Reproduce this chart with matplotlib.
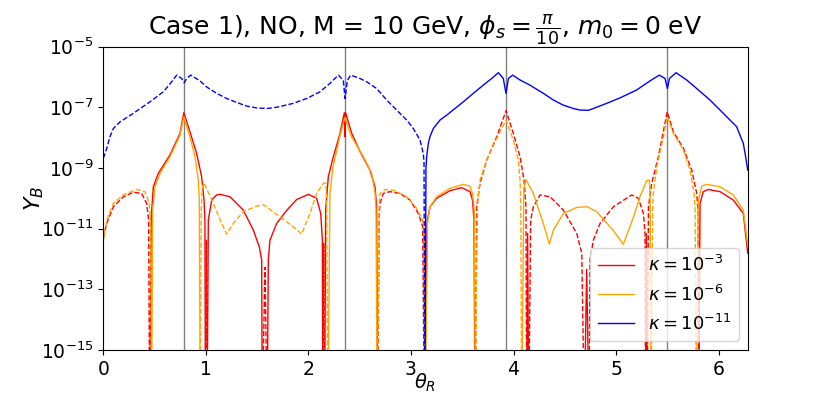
import numpy as np
import matplotlib
matplotlib.use("Agg")
import matplotlib.pyplot as plt
from matplotlib.lines import Line2D

# theta_R values and log10|Y_B|; None marks a sign change (Y_B = 0)
theta_k3 = [0.0, 0.033, 0.098, 0.195, 0.293, 0.374, 0.423, 0.442, 0.452, 0.468, 0.488, 0.536, 0.65, 0.748,
            0.785, 0.845, 0.91, 0.959, 0.982, 0.991, 0.996, 1.005, 1.012, 1.024, 1.057, 1.105, 1.138, 1.235,
            1.365, 1.463, 1.521, 1.544, 1.55, 1.576, 1.598, 1.609, 1.625, 1.69, 1.79, 1.885, 2.0, 2.08, 2.12,
            2.136, 2.14, 2.149, 2.158, 2.168, 2.194, 2.243, 2.308, 2.35, 2.356, 2.362, 2.422, 2.503, 2.6,
            2.649, 2.665, 2.675, 2.69, 2.698, 2.73, 2.795, 2.893, 2.99, 3.072, 3.114, 3.13, 3.16, 3.185,
            3.25, 3.38, 3.494, 3.575, 3.6, 3.614, 3.624, 3.64, 3.673, 3.738, 3.836, 3.927, 3.998, 4.063,
            4.102, 4.121, 4.128, 4.137, 4.148, 4.167, 4.193, 4.258, 4.356, 4.486, 4.616, 4.665, 4.69, 4.713,
            4.735, 4.745, 4.778, 4.843, 4.973, 5.152, 5.217, 5.266, 5.282, 5.287, 5.295, 5.303, 5.315,
            5.347, 5.412, 5.498, 5.558, 5.656, 5.737, 5.786, 5.8, 5.806, 5.818, 5.85, 5.9, 6.013, 6.143,
            6.24, 6.283]
lg_k3 = [-11.3, -10.83, -10.28, -9.95, -9.80, -9.84, -10.17, -10.72, None, -10.61, -9.62, -9.18, -8.57, -7.86,
         -7.18, -7.81, -8.52, -9.29, -10.06, -10.72, None, -11.38, None, -10.72, -10.06, -9.89, -9.87, -9.95,
         -10.39, -11.05, -11.60, -12.03, None, -12.28, None, -12.03, -11.38, -10.83, -10.39, -10.04, -9.87,
         -10.0, -10.50, -11.38, None, -11.49, None, -10.39, -9.29, -8.63, -7.86, -7.18, -7.97, -7.18, -7.86,
         -8.46, -9.07, -9.62, -10.28, None, -10.6, -10.17, -9.84, -9.78, -9.84, -10.06, -10.5, -10.94, None,
         -10.72, -10.28, -10.0, -9.75, -9.65, -9.78, -10.06, -10.72, None, -10.28, -9.51, -8.74, -7.97,
         -7.11, -7.86, -8.63, -9.40, -10.28, None, -11.16, None, -10.72, -10.28, -9.89, -9.95, -10.39,
         -11.16, -11.81, None, -12.34, None, -12.03, -11.38, -10.83, -10.28, -9.89, -10.0, -10.5, -11.16,
         None, -11.16, None, -10.28, -9.51, -8.63, -7.15, -7.81, -8.35, -9.07, -9.84, -10.5, None, -10.17,
         -9.78, -9.71, -9.78, -10.06, -10.5, -11.81]

theta_k6 = [0.0, 0.033, 0.098, 0.195, 0.325, 0.406, 0.449, 0.462, 0.47, 0.481, 0.504, 0.553, 0.65, 0.748,
            0.785, 0.845, 0.894, 0.926, 0.936, 0.945, 0.955, 0.965, 0.982, 1.073, 1.154, 1.203, 1.268, 1.365,
            1.495, 1.567, 1.723, 1.853, 1.934, 2.015, 2.08, 2.145, 2.17, 2.178, 2.19, 2.21, 2.24, 2.305,
            2.356, 2.42, 2.536, 2.617, 2.65, 2.659, 2.67, 2.69, 2.698, 2.747, 2.828, 2.958, 3.056, 3.114,
            3.13, 3.14, 3.16, 3.185, 3.25, 3.38, 3.51, 3.575, 3.6, 3.617, 3.628, 3.647, 3.673, 3.738, 3.836,
            3.927, 3.998, 4.047, 4.063, 4.07, 4.08, 4.1, 4.12, 4.193, 4.29, 4.349, 4.388, 4.486, 4.616, 4.72,
            4.81, 4.97, 5.07, 5.17, 5.232, 5.298, 5.324, 5.332, 5.34, 5.357, 5.363, 5.396, 5.461, 5.498,
            5.558, 5.656, 5.72, 5.76, 5.77, 5.782, 5.802, 5.835, 5.883, 6.013, 6.143, 6.24, 6.283]
lg_k6 = [-11.43, -10.72, -10.17, -9.89, -9.71, -9.78, -10.17, -10.94, None, -10.39, -9.62, -9.18, -8.63, -7.92,
         -7.31, -7.97, -8.63, -9.40, -10.06, None, -10.3, -9.65, -9.49, -10.17, -10.83, -11.18, -10.83, -10.44,
         -10.26, -10.22, -10.61, -10.94, -11.18, -10.5, -9.84, -9.51, -9.49, -10.2, None, -9.84, -8.96, -7.97,
         -7.33, -7.97, -8.63, -9.18, -9.84, -10.39, None, -10.3, -9.84, -9.71, -9.73, -9.95, -10.33, -10.72,
         -11.16, None, -10.83, -10.28, -9.95, -9.67, -9.54, -9.6, -9.84, -10.39, None, -10.28, -9.40, -8.74,
         -8.02, -7.42, -8.08, -8.74, -9.40, -10.06, None, -9.7, -9.38, -9.84, -10.83, -11.51, -11.05, -10.5,
         -10.30, -10.28, -10.44, -11.05, -11.52, -10.61, -9.95, -9.42, -9.40, -10.0, None, -10.3, -9.84,
         -8.96, -7.97, -7.31, -7.86, -8.41, -9.07, -9.84, -10.39, None, -10.06, -9.60, -9.54, -9.62, -9.89,
         -10.39, -11.54]

theta_k11 = [0.0, 0.017, 0.033, 0.065, 0.098, 0.163, 0.293, 0.455, 0.585, 0.667, 0.715, 0.764, 0.79, 0.813,
             0.852, 0.943, 1.008, 1.105, 1.203, 1.30, 1.398, 1.495, 1.593, 1.69, 1.853, 1.983, 2.113, 2.21,
             2.292, 2.34, 2.357, 2.38, 2.412, 2.503, 2.568, 2.665, 2.763, 2.86, 2.958, 3.023, 3.088, 3.12,
             3.127, 3.135, 3.146, 3.153, 3.169, 3.185, 3.218, 3.283, 3.348, 3.51, 3.608, 3.705, 3.787, 3.852,
             3.90, 3.926, 3.95, 3.991, 4.063, 4.16, 4.29, 4.388, 4.485, 4.583, 4.648, 4.729, 4.778, 4.908,
             5.038, 5.2, 5.33, 5.421, 5.477, 5.5, 5.52, 5.584, 5.688, 5.785, 5.915, 6.013, 6.11, 6.175, 6.24,
             6.263, 6.283]
lg_k11 = [-8.68, -8.52, -8.36, -7.97, -7.70, -7.48, -7.20, -6.82, -6.49, -6.16, -5.94, -6.05, -6.19, -6.05,
          -5.94, -6.13, -6.33, -6.54, -6.71, -6.84, -6.96, -7.02, -7.04, -7.0, -6.87, -6.71, -6.49, -6.21,
          -5.94, -6.11, -6.71, -6.11, -5.94, -6.05, -6.16, -6.38, -6.76, -7.09, -7.42, -7.70, -8.08, -8.52,
          -8.8, None, -9.0, -8.63, -8.19, -7.97, -7.70, -7.42, -7.26, -6.82, -6.54, -6.27, -6.05, -5.86,
          -6.05, -6.54, -6.05, -5.94, -6.10, -6.27, -6.54, -6.76, -6.93, -7.04, -7.09, -7.1, -7.04, -6.87,
          -6.69, -6.43, -6.13, -5.94, -6.05, -6.38, -6.05, -5.86, -6.1, -6.38, -6.76, -7.09, -7.42, -7.64,
          -8.19, -8.63, -9.07]

# all three curves start negative at theta_R = 0
start_sign = -1
kappa_labels = [r'$\kappa = 10^{-3}$', r'$\kappa = 10^{-6}$', r'$\kappa = 10^{-11}$']
colors = ['red', 'orange', 'blue']
flavour_angles = [np.pi / 4, 3 * np.pi / 4, 5 * np.pi / 4, 7 * np.pi / 4]


def draw_curve(ax, theta, lg, color):
    '''solid where Y_B > 0, dashed where Y_B < 0'''
    sign = start_sign
    tt, yy = [], []
    for t, v in zip(theta, lg):
        if v is None:
            tt.append(t)
            yy.append(1e-17)
            ax.plot(tt, yy, color=color, lw=1, ls='-' if sign > 0 else '--')
            sign = -sign
            tt, yy = [t], [1e-17]
        else:
            tt.append(t)
            yy.append(10.0 ** v)
    ax.plot(tt, yy, color=color, lw=1, ls='-' if sign > 0 else '--')


fig = plt.figure(figsize=(8.31, 3.94), dpi=100)
ax = fig.add_axes([0.1243, 0.1117, 0.7755, 0.77])

for a in flavour_angles:
    ax.axvline(a, color='gray', lw=1)

for th, lg, c in zip([theta_k3, theta_k6, theta_k11], [lg_k3, lg_k6, lg_k11], colors):
    draw_curve(ax, th, lg, c)

ax.set_yscale('log')
ax.set_xlim(0, 2 * np.pi)
ax.set_ylim(1e-15, 1e-5)
ax.set_yticks([1e-5, 1e-7, 1e-9, 1e-11, 1e-13, 1e-15])
ax.yaxis.set_minor_locator(matplotlib.ticker.NullLocator())
ax.set_xticks([0, 1, 2, 3, 4, 5, 6])
ax.tick_params(labelsize=13.5)

ax.set_xlabel(r'$\theta_R$', fontsize=14, labelpad=-5)
ax.set_ylabel(r'$Y_B$', fontsize=16, labelpad=-4)
ax.set_title(r'Case 1), NO, M = 10 GeV, $\phi_s = \frac{\pi}{10}$, $m_0 = 0$ eV', fontsize=18)

handles = [Line2D([], [], color=c, lw=1) for c in colors]
ax.legend(handles, kappa_labels, loc='lower right', fontsize=13)

fig.savefig('out.png', dpi=100)
